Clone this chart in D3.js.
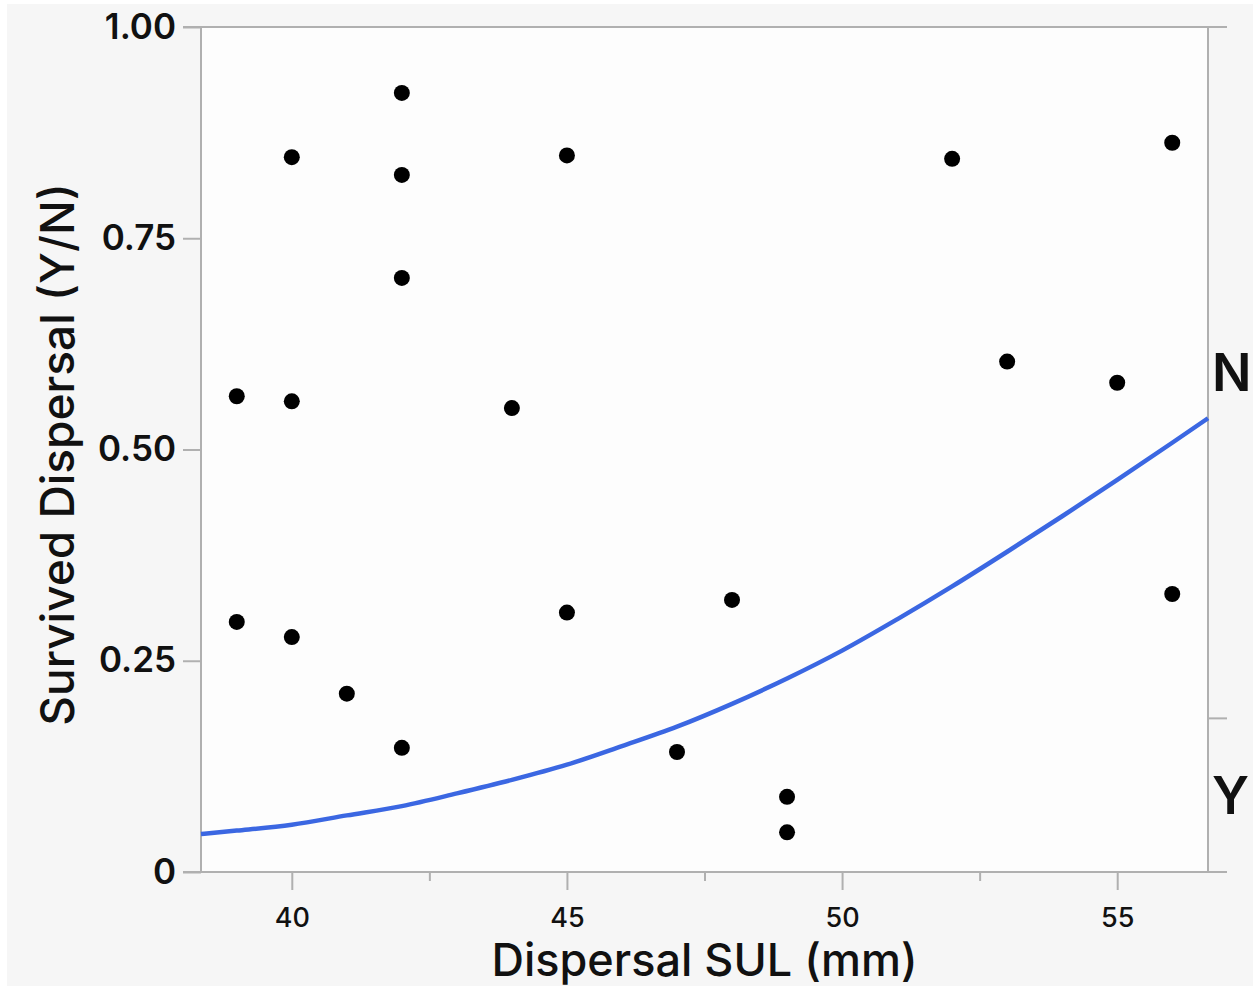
<!DOCTYPE html>
<html>
<head>
<meta charset="utf-8">
<script src="https://cdn.jsdelivr.net/npm/d3@7"></script>
<style>
  html, body { margin: 0; padding: 0; background: #ffffff; }
  #chart { width: 1253px; height: 989px; }
  text { font-family: Inter, "Noto Sans", sans-serif; fill: #111; }
</style>
</head>
<body>
<div id="chart"></div>
<script>
// Logistic fit of dispersal survival vs SUL (JMP style)
const sul = [39, 39, 40, 40, 40, 41, 42, 42, 42, 42, 44, 45, 45, 47, 48, 49, 49, 52, 53, 55, 56, 56];
const jitterY = [0.563, 0.296, 0.846, 0.557, 0.278, 0.211, 0.922, 0.825, 0.703, 0.147, 0.549, 0.848,
  0.307, 0.142, 0.322, 0.089, 0.047, 0.844, 0.604, 0.579, 0.863, 0.329];

// fitted probability curve
const curveX = [38.35, 39, 40, 41, 42, 43, 44, 45, 46, 47, 48, 49, 50, 51, 52, 53, 54, 55, 56, 56.65];
const curveP = [0.045, 0.049, 0.056, 0.067, 0.078, 0.093, 0.109, 0.127, 0.149, 0.172, 0.199, 0.229,
  0.262, 0.299, 0.338, 0.379, 0.421, 0.464, 0.508, 0.537];

const yTicks = [0, 0.25, 0.5, 0.75, 1];
const yTickLabels = ["0", "0.25", "0.50", "0.75", "1.00"];
const xMajor = [40, 45, 50, 55];
const xMinor = [42.5, 47.5, 52.5];

// right axis response levels (Y at bottom, N at top)
const levels = ["Y", "N"];
const levelCounts = [4, 18];

(function () {
  const width = 1253;
  const height = 989;
  const left = 201, right = 1208, top = 27, bottom = 872;
  const frame = "#b0b0b0";

  const svg = d3.select("#chart").append("svg")
    .attr("width", width)
    .attr("height", height);

  svg.append("rect")
    .attr("x", 7).attr("y", 4)
    .attr("width", width - 7).attr("height", 982)
    .attr("fill", "#f6f6f6");

  svg.append("rect")
    .attr("x", left).attr("y", top)
    .attr("width", right - left).attr("height", bottom - top)
    .attr("fill", "#fdfdfd");

  const x = d3.scaleLinear().domain([38.35, 56.65]).range([left, right]);
  const y = d3.scaleLinear().domain([0, 1]).range([bottom, top]);

  // left axis
  const yAxis = svg.append("g")
    .attr("transform", `translate(${left},0)`)
    .call(d3.axisLeft(y).tickValues(yTicks)
      .tickFormat((d, i) => yTickLabels[i]).tickSize(18).tickPadding(7));
  yAxis.select(".domain").remove();
  yAxis.selectAll("line").attr("stroke", frame).attr("stroke-width", 2);
  yAxis.selectAll("text")
    .attr("font-size", 35).attr("font-weight", 600)
    .attr("font-family", "Inter, sans-serif").attr("fill", "#111");

  // bottom axis: major + minor ticks
  const xAxis = svg.append("g")
    .attr("transform", `translate(0,${bottom})`)
    .call(d3.axisBottom(x).tickValues(xMajor).tickFormat(d3.format("d"))
      .tickSize(18).tickPadding(18));
  xAxis.select(".domain").remove();
  xAxis.selectAll("line").attr("stroke", frame).attr("stroke-width", 2);
  xAxis.selectAll("text")
    .attr("font-size", 27).attr("font-weight", 500)
    .attr("font-family", "Inter, sans-serif").attr("fill", "#111");

  const xMinorAxis = svg.append("g")
    .attr("transform", `translate(0,${bottom})`)
    .call(d3.axisBottom(x).tickValues(xMinor).tickFormat("").tickSize(9));
  xMinorAxis.select(".domain").remove();
  xMinorAxis.selectAll("line").attr("stroke", frame).attr("stroke-width", 2);

  // frame
  const lines = [
    [left - 18, top, right + 19, top],
    [left - 18, bottom, right + 19, bottom],
    [left, top, left, bottom],
    [right, top, right, bottom]
  ];
  svg.append("g").selectAll("line")
    .data(lines)
    .join("line")
    .attr("x1", (d) => d[0]).attr("y1", (d) => d[1])
    .attr("x2", (d) => d[2]).attr("y2", (d) => d[3])
    .attr("stroke", frame).attr("stroke-width", 2);

  // right axis: level boundaries and labels
  const total = d3.sum(levelCounts);
  const cum = d3.cumsum(levelCounts).map((c) => c / total);
  const bands = levels.map((lv, i) => ({ lv, lo: i ? cum[i - 1] : 0, hi: cum[i] }));

  svg.append("g").selectAll("line")
    .data(bands.slice(0, -1))
    .join("line")
    .attr("x1", right).attr("x2", right + 19)
    .attr("y1", (d) => y(d.hi)).attr("y2", (d) => y(d.hi))
    .attr("stroke", frame).attr("stroke-width", 2);

  svg.append("g").selectAll("text")
    .data(bands)
    .join("text")
    .attr("x", right + 4)
    .attr("y", (d) => y((d.lo + d.hi) / 2))
    .attr("dy", "0.36em")
    .attr("font-size", 52).attr("font-weight", 600)
    .text((d) => d.lv);

  // fitted curve
  const line = d3.line()
    .x((d, i) => x(curveX[i]))
    .y((d) => y(d))
    .curve(d3.curveMonotoneX);

  svg.append("path")
    .datum(curveP)
    .attr("d", line)
    .attr("fill", "none")
    .attr("stroke", "#3b67e2")
    .attr("stroke-width", 4.5);

  // points
  svg.append("g").selectAll("circle")
    .data(sul)
    .join("circle")
    .attr("cx", (d) => x(d))
    .attr("cy", (d, i) => y(jitterY[i]))
    .attr("r", 8)
    .attr("fill", "#000");

  // axis titles
  svg.append("text")
    .attr("x", (left + right) / 2)
    .attr("y", 976)
    .attr("text-anchor", "middle")
    .attr("font-size", 45).attr("font-weight", 500)
    .text("Dispersal SUL (mm)");

  svg.append("text")
    .attr("transform", `translate(74,${(top + bottom) / 2 + 5}) rotate(-90)`)
    .attr("text-anchor", "middle")
    .attr("font-size", 46).attr("font-weight", 500)
    .text("Survived Dispersal (Y/N)");
})();
</script>
</body>
</html>
